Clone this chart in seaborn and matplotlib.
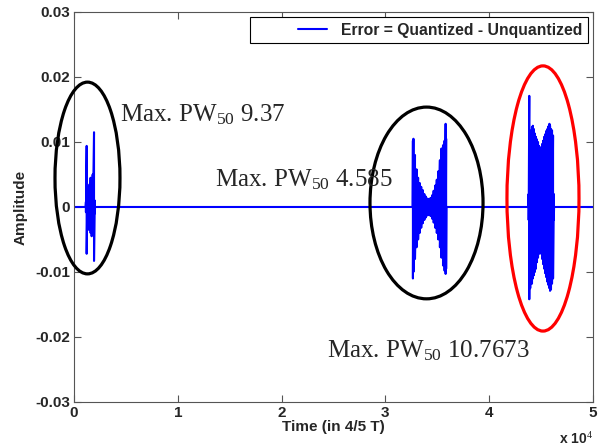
import matplotlib
matplotlib.use('Agg')
import matplotlib.pyplot as plt
from matplotlib.patches import Ellipse
from matplotlib.legend_handler import HandlerLine2D
from matplotlib.ticker import FixedLocator, FixedFormatter
import seaborn as sns
import pandas as pd

# burst 1 (around 1.2e3 - 2e3)
t_burst1 = [1150, 1220, 1300, 1400, 1500, 1600, 1700, 1800, 1930, 2000]
hi_burst1 = [0.0008, 0.0094, 0.0030, 0.0025, 0.0035, 0.0045, 0.0040, 0.0050, 0.0115, 0.0010]
lo_burst1 = [-0.0008, -0.0072, -0.0030, -0.0035, -0.0030, -0.0040, -0.0045, -0.0035, -0.0083, -0.0010]

# burst 2 (around 3.3e4 - 3.6e4)
t_burst2 = [32650, 32700, 32850, 33000, 33150, 33300, 33450, 33600, 33750, 33900, 34050, 34200,
            34350, 34500, 34650, 34800, 34950, 35100, 35250, 35400, 35550, 35700, 35800, 35850]
hi_burst2 = [0.0102, 0.0105, 0.0080, 0.0058, 0.0045, 0.0037, 0.0031, 0.0026, 0.0020, 0.0016, 0.0013, 0.0012,
             0.0014, 0.0018, 0.0025, 0.0033, 0.0042, 0.0055, 0.0072, 0.0090, 0.0095, 0.0102, 0.0128, 0.0105]
lo_burst2 = [-0.0110, -0.0100, -0.0080, -0.0062, -0.0050, -0.0040, -0.0032, -0.0025, -0.0020, -0.0016, -0.0013, -0.0012,
             -0.0014, -0.0018, -0.0024, -0.0032, -0.0040, -0.0050, -0.0062, -0.0078, -0.0090, -0.0098, -0.0103, -0.0095]

# burst 3 (around 4.4e4 - 4.6e4)
t_burst3 = [43800, 43860, 43950, 44050, 44120, 44200, 44300, 44400, 44500, 44600, 44700, 44800, 44890, 45000,
            45100, 45200, 45300, 45400, 45500, 45600, 45700, 45800, 45860, 45950, 46050, 46150, 46220]
hi_burst3 = [0.0020, 0.0171, 0.0110, 0.0118, 0.0123, 0.0125, 0.0120, 0.0113, 0.0108, 0.0104, 0.0100, 0.0094, 0.0089, 0.0092,
             0.0097, 0.0102, 0.0108, 0.0112, 0.0117, 0.0120, 0.0124, 0.0128, 0.0125, 0.0120, 0.0118, 0.0110, 0.0020]
lo_burst3 = [-0.0020, -0.0142, -0.0125, -0.0115, -0.0118, -0.0110, -0.0105, -0.0100, -0.0095, -0.0085, -0.0078, -0.0072, -0.0069, -0.0072,
             -0.0080, -0.0088, -0.0095, -0.0102, -0.0108, -0.0115, -0.0120, -0.0125, -0.0129, -0.0127, -0.0118, -0.0110, -0.0020]

t_start, t_end = 0, 50000

# ellipses: (center x, center y, width, height, colour)
ellipse_cx = [1300, 33960, 45180]
ellipse_cy = [0.00446, 0.00062, 0.00131]
ellipse_w = [6260, 10890, 6940]
ellipse_h = [0.0295, 0.0295, 0.0408]
ellipse_colors = ['black', 'black', 'red']

# annotations
note_texts = [r'Max. PW$_{50}$ 9.37', r'Max. PW$_{50}$ 4.585', r'Max. PW$_{50}$ 10.7673']
note_x = [4430, 13580, 24370]
note_y = [0.0132, 0.0032, -0.0231]

x_ticks = [0, 10000, 20000, 30000, 40000, 50000]
x_ticklabels = ['0', '1', '2', '3', '4', '5']
y_ticks = [-0.03, -0.02, -0.01, 0, 0.01, 0.02, 0.03]
y_ticklabels = ['-0.03', '-0.02', '-0.01', '0', '0.01', '0.02', '0.03']


def zigzag(ts, his, los):
    xs, ys = [], []
    for t, h, l in zip(ts, his, los):
        xs += [t, t]
        ys += [h, l]
    return xs, ys


class RightLineHandler(HandlerLine2D):
    # matlab style legend: blank space, then a short line sample
    def get_xdata(self, legend, xdescent, ydescent, width, height, fontsize):
        xd = [-xdescent + width * 0.6, -xdescent + width]
        return xd, xd


xs, ys = [t_start], [0.0]
for ts, his, los in [(t_burst1, hi_burst1, lo_burst1),
                     (t_burst2, hi_burst2, lo_burst2),
                     (t_burst3, hi_burst3, lo_burst3)]:
    bx, by = zigzag(ts, his, los)
    xs += [ts[0] - 30] + bx + [ts[-1] + 30]
    ys += [0.0] + by + [0.0]
xs.append(t_end)
ys.append(0.0)
df = pd.DataFrame({'Time': xs, 'Amplitude': ys})

sns.set_style('ticks')
plt.rcParams['font.family'] = ['Liberation Sans', 'DejaVu Sans']
plt.rcParams['mathtext.fontset'] = 'custom'
plt.rcParams['mathtext.rm'] = 'Liberation Serif'
plt.rcParams['mathtext.it'] = 'Liberation Serif:italic'

fig = plt.figure(figsize=(6.05, 4.46), dpi=100)
ax = fig.add_axes([0.1223, 0.0987, 0.8579, 0.8744])

sns.lineplot(data=df, x='Time', y='Amplitude', sort=False, estimator=None,
             color='#0000ff', linewidth=1.5, ax=ax, label='Error = Quantized - Unquantized')

for cx, cy, w, h, c in zip(ellipse_cx, ellipse_cy, ellipse_w, ellipse_h, ellipse_colors):
    ax.add_patch(Ellipse((cx, cy), w, h, fill=False, edgecolor=c, linewidth=2.3, clip_on=False, zorder=5))

for txt, tx, ty in zip(note_texts, note_x, note_y):
    ax.text(tx, ty, txt, fontsize=18, family='Liberation Serif', ha='left', va='baseline', zorder=6)

ax.set_xlim(t_start, t_end)
ax.set_ylim(-0.03, 0.03)
ax.xaxis.set_major_locator(FixedLocator(x_ticks))
ax.xaxis.set_major_formatter(FixedFormatter(x_ticklabels))
ax.yaxis.set_major_locator(FixedLocator(y_ticks))
ax.yaxis.set_major_formatter(FixedFormatter(y_ticklabels))
ax.tick_params(direction='in', length=5, width=0.8, color='#555555', top=True, right=True,
               labelsize=11, pad=3)
for lab in ax.get_xticklabels() + ax.get_yticklabels():
    lab.set_fontweight('bold')
for sp in ax.spines.values():
    sp.set_visible(True)
    sp.set_color('#555555')
    sp.set_linewidth(0.8)

ax.set_xlabel('Time (in 4/5 T)', fontsize=11, fontweight='bold', labelpad=0)
ax.set_ylabel('Amplitude', fontsize=11, fontweight='bold', labelpad=5)
ax.text(1.0, -0.075, r'x 10$^{4}$', transform=ax.transAxes, fontsize=10, fontweight='bold',
        ha='right', va='top')

handles, labels = ax.get_legend_handles_labels()
leg = ax.legend(handles, labels, loc='upper right', frameon=True, fancybox=False, framealpha=1,
                edgecolor='black', handlelength=4.6, handletextpad=0.85, borderaxespad=0.35,
                borderpad=0.35, prop={'weight': 'bold', 'size': 11.3},
                handler_map={handles[0]: RightLineHandler()})
leg.get_frame().set_linewidth(0.8)

fig.savefig('out.png', dpi=100)
plt.close(fig)
